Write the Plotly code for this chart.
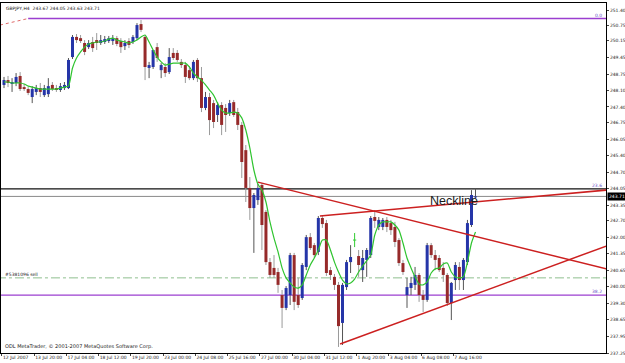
import plotly.graph_objects as go

# ---------------- data (GBPJPY, H4) ----------------
opens = [248.31, 248.51, 248.35, 248.39, 248.68, 248.22, 248.14, 247.81, 248.02, 248.18,
         247.89, 247.93, 248.31, 248.18, 248.10, 248.18, 248.18, 249.46, 250.29, 250.24,
         250.04, 249.87, 250.08, 250.16, 250.04, 250.08, 250.12, 250.12, 250.24, 250.12,
         249.91, 250.12, 250.08, 250.24, 250.82, 250.29, 249.01, 249.05, 249.87, 248.92,
         249.05, 248.84, 249.63, 249.63, 249.26, 249.13, 248.92, 248.59, 249.34, 248.59,
         247.36, 247.81, 247.56, 247.07, 247.48, 247.36, 247.15, 247.60, 247.19, 246.66,
         245.62, 244.06, 243.23, 243.56, 244.18, 243.07, 241.00, 240.76, 240.59, 239.64,
         239.11, 239.64, 241.29, 239.64, 239.52, 240.80, 242.03, 241.70, 241.42, 242.82,
         242.61, 240.67, 240.39, 240.06, 238.49, 239.97, 241.00, 241.91, 241.25, 240.67,
         241.09, 241.29, 242.86, 242.45, 242.45, 242.74, 242.61, 242.45, 241.91, 240.96,
         239.64, 239.93, 240.06, 240.47, 239.64, 239.44, 241.70, 241.29, 241.17, 240.76,
         240.47, 239.31, 240.26, 240.80, 240.26, 241.00, 242.53, 243.67]
highs = [248.64, 248.68, 248.59, 248.80, 248.84, 248.35, 248.22, 248.26, 248.31, 248.39,
         248.31, 248.59, 248.43, 248.31, 248.39, 248.43, 249.42, 250.37, 250.41, 250.37,
         250.16, 250.16, 250.29, 250.45, 250.37, 250.33, 250.33, 250.37, 250.33, 250.24,
         250.16, 250.24, 250.37, 250.86, 250.99, 250.37, 249.26, 249.67, 250.04, 249.21,
         249.21, 249.83, 249.83, 249.75, 249.38, 249.26, 249.09, 249.34, 249.42, 249.05,
         248.02, 247.98, 247.69, 247.60, 247.60, 247.52, 247.69, 247.69, 247.36, 246.78,
         245.83, 244.51, 243.85, 244.22, 244.26, 243.15, 241.17, 241.29, 240.76, 239.85,
         240.01, 241.38, 241.38, 240.35, 240.96, 242.12, 242.20, 241.79, 242.90, 242.90,
         242.74, 240.80, 240.51, 240.18, 240.14, 241.09, 241.70, 242.20, 241.50, 241.50,
         241.58, 242.90, 243.15, 242.86, 242.82, 242.86, 242.74, 242.66, 241.99, 241.09,
         240.35, 240.39, 240.80, 240.55, 239.85, 241.79, 241.79, 241.50, 241.29, 241.00,
         240.55, 240.18, 241.00, 241.00, 241.17, 242.74, 243.97, 244.05]
lows = [248.18, 248.22, 248.02, 248.26, 248.06, 248.06, 247.89, 247.56, 247.89, 247.81,
        247.81, 247.81, 248.06, 248.02, 248.02, 248.10, 248.14, 249.38, 250.04, 250.04,
        249.54, 249.79, 249.67, 249.75, 249.96, 250.00, 250.04, 249.96, 249.91, 249.63,
        249.75, 249.83, 250.00, 250.16, 250.49, 248.51, 248.59, 248.97, 249.26, 248.59,
        248.64, 248.76, 249.34, 249.26, 249.01, 248.39, 248.51, 248.51, 248.43, 247.19,
        247.27, 246.24, 246.53, 246.78, 246.24, 246.37, 247.03, 246.99, 246.45, 244.47,
        243.48, 242.74, 241.38, 243.36, 241.50, 240.88, 240.35, 240.35, 239.73, 238.28,
        239.02, 239.23, 239.02, 239.11, 239.44, 240.67, 241.50, 241.17, 241.29, 242.41,
        240.43, 240.26, 239.85, 237.50, 237.58, 239.85, 240.55, 241.62, 240.39, 240.18,
        240.39, 241.17, 242.41, 242.32, 242.32, 242.24, 242.12, 241.62, 240.84, 240.47,
        239.11, 239.64, 239.85, 239.36, 238.94, 239.36, 241.17, 240.67, 240.59, 240.18,
        239.19, 238.61, 239.85, 239.85, 239.85, 240.88, 242.45, 243.63]
closes = [248.51, 248.39, 248.43, 248.64, 248.14, 248.14, 247.98, 248.14, 248.18, 248.02,
          248.18, 248.26, 248.14, 248.10, 248.26, 248.31, 249.34, 250.29, 250.16, 250.12,
          249.67, 250.04, 249.83, 250.04, 250.16, 250.20, 250.24, 250.24, 250.00, 249.87,
          250.04, 249.96, 250.29, 250.78, 250.58, 249.05, 249.13, 249.75, 249.42, 249.13,
          248.80, 249.46, 249.42, 249.34, 249.13, 248.64, 248.59, 249.26, 248.59, 247.36,
          247.81, 246.86, 246.78, 247.48, 246.66, 247.07, 247.56, 247.07, 246.66, 245.13,
          244.06, 243.23, 243.77, 244.06, 242.53, 241.00, 240.47, 240.47, 240.06, 239.11,
          239.93, 241.29, 239.36, 239.23, 240.88, 242.03, 241.58, 241.29, 242.82, 242.57,
          240.55, 240.47, 240.06, 238.36, 240.06, 241.00, 241.21, 241.91, 240.88, 241.17,
          241.50, 242.82, 242.70, 242.74, 242.74, 242.45, 242.32, 241.83, 240.96, 240.59,
          239.97, 240.14, 240.47, 239.64, 239.44, 241.70, 241.29, 241.09, 240.67, 240.47,
          239.31, 240.14, 240.88, 240.26, 241.09, 242.61, 243.77, 243.71]
ma_line = [248.43, 248.43, 248.39, 248.39, 248.39, 248.35, 248.26, 248.22, 248.18, 248.14,
           248.14, 248.14, 248.14, 248.14, 248.18, 248.22, 248.26, 249.01, 249.42, 249.67,
           249.87, 250.00, 250.04, 250.08, 250.08, 250.12, 250.20, 250.24, 250.16, 250.12,
           250.08, 250.04, 250.08, 250.16, 250.29, 250.37, 250.08, 249.75, 249.46, 249.26,
           249.13, 249.17, 249.21, 249.21, 249.21, 249.21, 249.05, 248.80, 248.64, 248.51,
           248.31, 248.10, 247.89, 247.56, 247.27, 247.15, 247.15, 247.19, 247.15, 246.95,
           246.45, 245.71, 244.80, 244.22, 243.97, 243.48, 242.66, 241.99, 241.42, 240.76,
           240.35, 240.14, 239.97, 239.93, 240.06, 240.47, 240.88, 241.17, 241.50, 241.91,
           241.91, 241.50, 241.00, 240.59, 240.26, 240.10, 240.14, 240.30, 240.59, 240.84,
           241.05, 241.29, 242.12, 242.53, 242.66, 242.66, 242.66, 242.53, 242.32, 241.79,
           241.17, 240.76, 240.39, 240.10, 240.06, 240.18, 240.55, 240.72, 240.76, 240.92,
           240.96, 240.59, 240.39, 240.35, 240.39, 241.00, 241.79, 242.24]

time_label_bars = [0, 8, 16, 24, 32, 40, 48, 56, 64, 72, 80, 88, 96, 104, 112]
time_labels = ["12 Jul 2007", "13 Jul 20:00", "17 Jul 04:00", "18 Jul 12:00", "19 Jul 20:00",
               "23 Jul 00:00", "24 Jul 08:00", "25 Jul 16:00", "27 Jul 00:00", "30 Jul 04:00",
               "31 Jul 12:00", "1 Aug 20:00", "3 Aug 04:00", "6 Aug 08:00", "7 Aug 16:00"]
price_labels = ["251.40", "250.75", "250.15", "249.45", "248.75", "248.10", "247.40", "246.75",
                "246.05", "245.40", "244.70", "244.05", "243.35", "242.70", "242.00", "241.35",
                "240.65", "240.00", "239.30", "238.65", "237.95", "237.25"]

fib_names = ["0.0", "23.6", "38.2"]
fib_prices = [251.05, 244.02, 239.64]
fib_start_bars = [6.0, -1.0, -1.0]
fib_base_bars = [-1.0, 6.0]          # dashed fib trend line (bar index)
fib_base_prices = [250.78, 251.05]
bid_price = 243.71
order_price = 240.35
order_label = "#5381096 sell"
# trend lines: [bar0, price0, bar1, price1]
trend_desc = [63.0, 244.30, 149.4, 240.72]
trend_neck = [78.4, 242.90, 149.4, 243.97]
trend_low = [83.4, 237.62, 149.4, 241.66]
neck_label_pos = [105.2, 243.52]

header = "GBPJPY,H4  243.67 244.05 243.63 243.71"
footer = "ODL MetaTrader, \u00a9 2001-2007 MetaQuotes Software Corp."

# ---------------- styles ----------------
BULL = "#2535a8"
BEAR = "#962a2a"
WICK_BULL = "#555555"
WICK_BEAR = "#9a9a9a"
DOJI = "#33cc33"
PURPLE = "#9b3fd0"
RED = "#cc2020"
X_RANGE = [-0.744, 149.38]
Y_RANGE = [237.25, 251.69]
MIN_BODY = 0.035

fig = go.Figure()


def hline(x0, x1, y, color, width=1, dash="solid"):
    fig.add_trace(go.Scatter(x=[x0, x1], y=[y, y], mode="lines",
                             line=dict(color=color, width=width, dash=dash),
                             hoverinfo="skip", showlegend=False))


hline(X_RANGE[0] - 1, X_RANGE[1] + 1, order_price, "#8fbf8f", 1, "dashdot")
hline(X_RANGE[0] - 1, X_RANGE[1] + 1, bid_price, "#8a8a8a", 1)
fib_colors = [PURPLE, "#111111", PURPLE]
for name, p, s, c in zip(fib_names, fib_prices, fib_start_bars, fib_colors):
    hline(s, X_RANGE[1] + 1, p, c, 1.3)
fig.add_trace(go.Scatter(x=fib_base_bars, y=fib_base_prices, mode="lines",
                         line=dict(color="#e06a6a", width=1, dash="dot"),
                         hoverinfo="skip", showlegend=False))

# candles
wx_bull, wy_bull, wx_bear, wy_bear, wx_doji, wy_doji = [], [], [], [], [], []
bx_bull, by_bull, bx_bear, by_bear = [], [], [], []
for i, (o, h, l, c) in enumerate(zip(opens, highs, lows, closes)):
    lo, hi = min(o, c), max(o, c)
    if hi - lo < MIN_BODY:
        m = (hi + lo) / 2
        lo, hi = m - MIN_BODY / 2, m + MIN_BODY / 2
    if o == c:
        wx_doji += [i, i, None, i - 0.4, i + 0.4, None]
        wy_doji += [l, h, None, o, o, None]
    elif c > o:
        wx_bull += [i, i, None]; wy_bull += [l, h, None]
        bx_bull += [i, i, None]; by_bull += [lo, hi, None]
    else:
        wx_bear += [i, i, None]; wy_bear += [l, h, None]
        bx_bear += [i, i, None]; by_bear += [lo, hi, None]

for xs, ys, col, w in [(wx_bear, wy_bear, WICK_BEAR, 1), (wx_bull, wy_bull, WICK_BULL, 1),
                       (wx_doji, wy_doji, DOJI, 1),
                       (bx_bear, by_bear, BEAR, 3), (bx_bull, by_bull, BULL, 3)]:
    fig.add_trace(go.Scatter(x=xs, y=ys, mode="lines", line=dict(color=col, width=w),
                             hoverinfo="skip", showlegend=False, connectgaps=False))

# moving average
fig.add_trace(go.Scatter(x=list(range(len(ma_line))), y=ma_line, mode="lines",
                         line=dict(color="#2fc42f", width=1.2, shape="spline", smoothing=0.6),
                         hoverinfo="skip", showlegend=False))

# trend lines
for t in (trend_desc, trend_neck, trend_low):
    fig.add_trace(go.Scatter(x=[t[0], t[2]], y=[t[1], t[3]], mode="lines",
                             line=dict(color=RED, width=1.5),
                             hoverinfo="skip", showlegend=False))

small = dict(family="Tahoma, DejaVu Sans, sans-serif", size=4.5, color="#222222")
annotations = [
    dict(text=header, xref="paper", yref="paper", x=0, y=1, xanchor="left", yanchor="top",
         xshift=3, yshift=-1, showarrow=False, font=small),
    dict(text=footer, xref="paper", yref="paper", x=0, y=0, xanchor="left", yanchor="bottom",
         xshift=2, yshift=1, showarrow=False, font=dict(small, size=5)),
    dict(text=order_label, xref="paper", yref="y", x=0, y=order_price, xanchor="left",
         yanchor="bottom", xshift=2, yshift=-1, showarrow=False, font=small),
    dict(text="Neckline", xref="x", yref="y", x=neck_label_pos[0], y=neck_label_pos[1],
         xanchor="left", yanchor="middle", showarrow=False,
         font=dict(family="Liberation Sans, Arial, sans-serif", size=12.5, color="#1a1a1a")),
    dict(text=f"{bid_price:.2f}", xref="paper", yref="y", x=1, y=bid_price, xanchor="left",
         yanchor="middle", xshift=1, showarrow=False, bgcolor="#000000", borderpad=1,
         font=dict(small, color="#ffffff")),
]
for name, p in zip(fib_names, fib_prices):
    annotations.append(dict(text=name, xref="paper", yref="y", x=1, y=p, xanchor="right",
                            yanchor="bottom", xshift=-2, yshift=-1, showarrow=False,
                            font=dict(small, color="#6a4fc8")))

fig.update_layout(
    width=625, height=363,
    margin=dict(l=1, r=19, t=3, b=10, autoexpand=False),
    paper_bgcolor="white", plot_bgcolor="white",
    showlegend=False, hovermode=False,
    annotations=annotations,
    xaxis=dict(range=X_RANGE, showgrid=False, zeroline=False, automargin=False,
               showline=True, linecolor="#000000", linewidth=1, mirror=True,
               tickmode="array", tickvals=[b - 0.5 for b in time_label_bars],
               ticktext=time_labels, ticks="outside", ticklen=2, tickcolor="#444444",
               tickangle=0, ticklabelposition="outside right", tickfont=small),
    yaxis=dict(range=Y_RANGE, side="right", showgrid=False, zeroline=False, automargin=False,
               showline=True, linecolor="#000000", linewidth=1, mirror=True,
               tickmode="array", tickvals=[float(s) for s in price_labels],
               ticktext=price_labels, ticks="outside", ticklen=2, tickcolor="#444444",
               tickfont=small),
)

fig.write_html("out.html", config={"displayModeBar": False})
